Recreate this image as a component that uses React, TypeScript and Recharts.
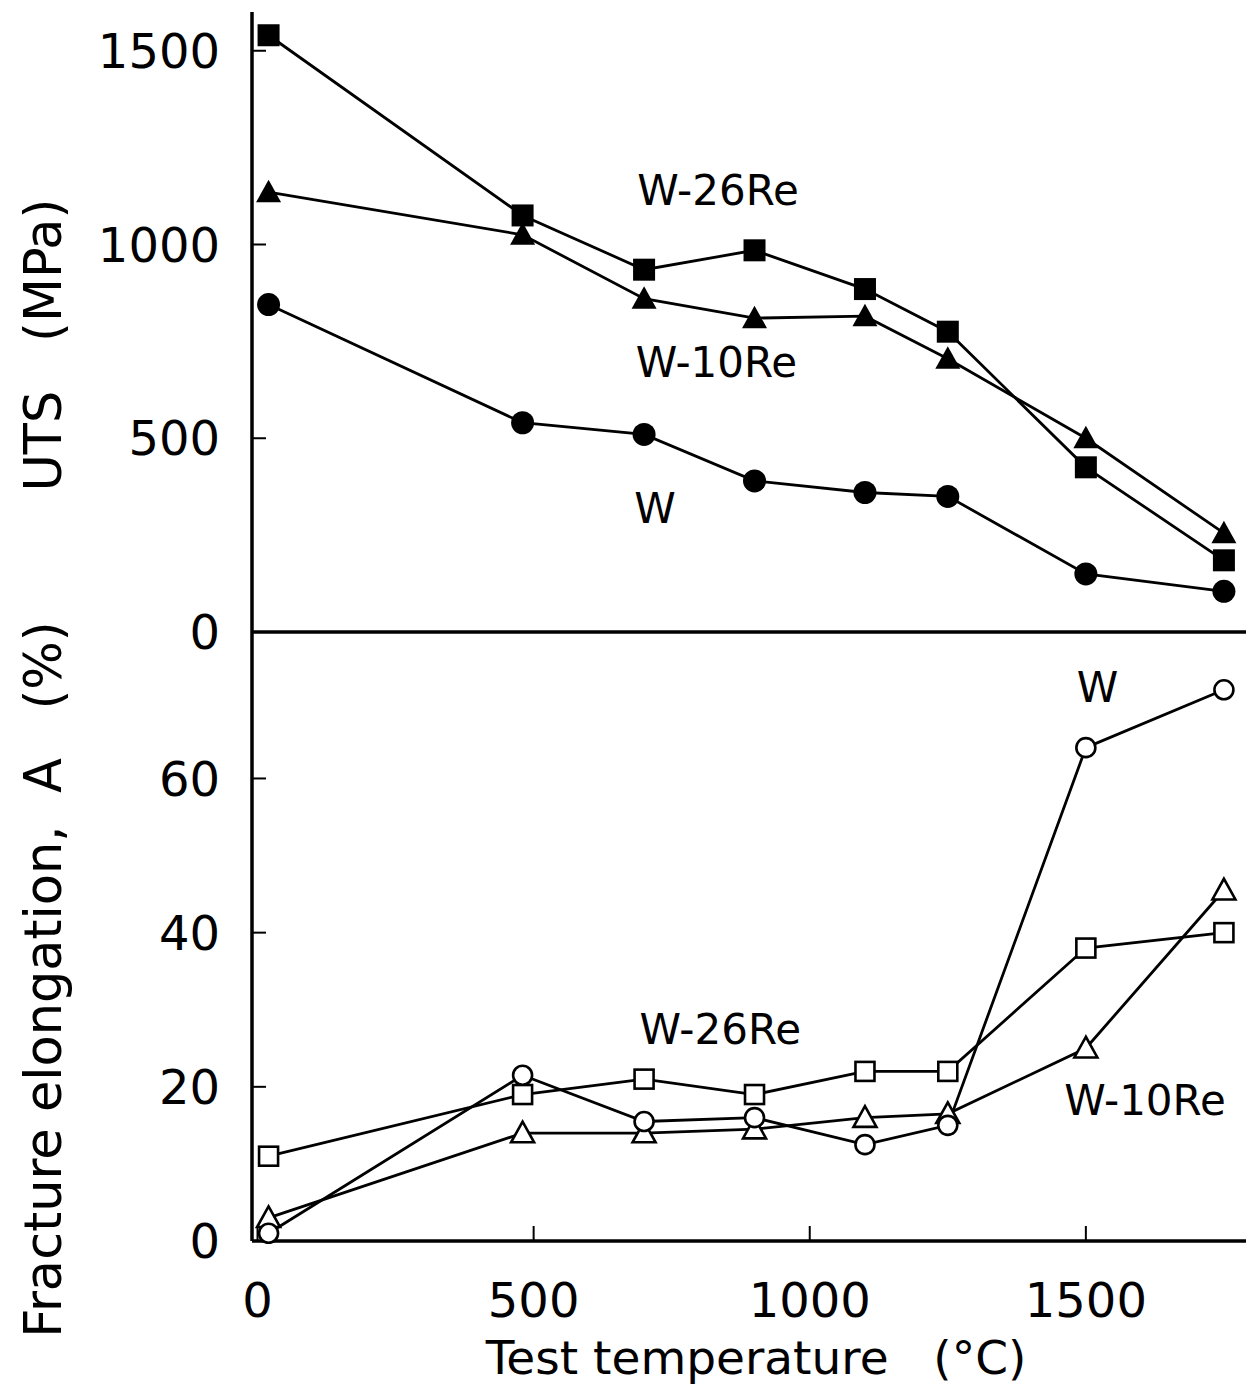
import { LineChart, Line, XAxis, YAxis, ReferenceDot } from 'recharts';

// test temperature (°C)
const temperatures = [20, 480, 700, 900, 1100, 1250, 1500, 1750];

// ultimate tensile strength (MPa)
const utsW26Re = [1540, 1075, 935, 985, 885, 775, 425, 185];
const utsW10Re = [1135, 1025, 860, 810, 815, 705, 500, 255];
const utsW = [845, 540, 510, 390, 360, 350, 150, 105];

// fracture elongation A (%)
const elongW = [1, 21.5, 15.5, 16, 12.5, 15, 64, 71.5];
const elongW26Re = [11, 19, 21, 19, 22, 22, 38, 40];
const elongW10Re = [3, 14, 14, 14.5, 16, 16.5, 25, 45.5];

const tempTicks = [0, 500, 1000, 1500];
const utsTicks = [0, 500, 1000, 1500];
const elongTicks = [0, 20, 40, 60];

// in-plot curve names, anchored in data units
const utsNames = [
  { text: 'W-26Re', t: 834, v: 1141 },
  { text: 'W-10Re', t: 831, v: 697 },
  { text: 'W', t: 720, v: 320 },
];
const elongNames = [
  { text: 'W', t: 1521, v: 71.9 },
  { text: 'W-26Re', t: 838, v: 27.5 },
  { text: 'W-10Re', t: 1607, v: 18.3 },
];

const FONT = '"DejaVu Sans", sans-serif';
const INK = '#000';
const NB = '\u00a0';
const LINE_W = 2.8;

const utsRows = temperatures.map((t, i) => ({ t, w26: utsW26Re[i], w10: utsW10Re[i], w: utsW[i] }));
const elongRows = temperatures.map((t, i) => ({ t, w26: elongW26Re[i], w10: elongW10Re[i], w: elongW[i] }));

const triPoints = (cx: number, cy: number, s: number) =>
  `${cx},${cy - s} ${cx - s},${cy + s * 0.8} ${cx + s},${cy + s * 0.8}`;

const filledSquare = (p: any) => (
  <rect key={`fs-${p.index}`} x={p.cx - 11} y={p.cy - 11} width={22} height={22} fill={INK} />
);
const filledTriangle = (p: any) => (
  <polygon key={`ft-${p.index}`} points={triPoints(p.cx, p.cy, 12.5)} fill={INK} />
);
const filledCircle = (p: any) => <circle key={`fc-${p.index}`} cx={p.cx} cy={p.cy} r={11.5} fill={INK} />;

const openSquare = (p: any) => (
  <rect key={`os-${p.index}`} x={p.cx - 9.5} y={p.cy - 9.5} width={19} height={19}
    fill="#fff" stroke={INK} strokeWidth={2.6} />
);
const openTriangle = (p: any) => (
  <polygon key={`ot-${p.index}`} points={triPoints(p.cx, p.cy, 11.5)} fill="#fff" stroke={INK} strokeWidth={2.6} />
);
const openCircle = (p: any) => (
  <circle key={`oc-${p.index}`} cx={p.cx} cy={p.cy} r={9.5} fill="#fff" stroke={INK} strokeWidth={2.6} />
);

const tickText = { fill: INK, fontSize: 48, fontFamily: FONT };
const frame = { stroke: INK, strokeWidth: 3.5 };
const tickStroke = { stroke: INK, strokeWidth: 2 };

// rotated y-axis title, centred on the axis box plus a vertical shift
const yTitle = (text: string, shift: number) => (props: any) => {
  const vb = props.viewBox || { x: 0, y: 0, height: 0 };
  const x = (vb.x || 0) + 61;
  const y = (vb.y || 0) + vb.height / 2 + shift;
  return (
    <text x={x} y={y} transform={`rotate(-90, ${x}, ${y})`} textAnchor="middle"
      fontSize={51} fontFamily={FONT} fill={INK}>
      {text}
    </text>
  );
};

const xTitle = (props: any) => {
  const vb = props.viewBox || { x: 0, y: 0, width: 0 };
  const x = (vb.x || 0) + vb.width / 2 + 7;
  const y = (vb.y || 0) + 133;
  return (
    <text x={x} y={y} textAnchor="middle" fontSize={47} fontFamily={FONT} fill={INK}>
      {`Test temperature${NB}${NB}${NB}(°C)`}
    </text>
  );
};

const curveName = (n: { text: string; t: number; v: number }) => (
  <ReferenceDot key={n.text + n.t} x={n.t} y={n.v} r={0.5} fill="none" stroke="none"
    label={{ value: n.text, position: 'center', fill: INK, fontSize: 42, fontFamily: FONT }} />
);

export default function App() {
  return (
    <div style={{ position: 'absolute', left: 0, top: 0, width: 1259, height: 1387, background: '#fff' }}>
      {/* upper panel: tensile strength */}
      <div style={{ position: 'absolute', left: 0, top: 0 }}>
        <LineChart width={1259} height={660} data={utsRows} margin={{ top: 12, right: 13, bottom: 0, left: 0 }}>
          <XAxis dataKey="t" type="number" domain={[-10, 1790]} ticks={tempTicks} interval={0}
            height={28} axisLine={frame} tickLine={tickStroke} tickSize={-15} tick={false} />
          <XAxis xAxisId="top" orientation="top" type="number" domain={[-10, 1790]} height={0}
            axisLine={frame} tickLine={false} tick={false} />
          <YAxis type="number" domain={[0, 1600]} ticks={utsTicks} interval={0} width={252}
            axisLine={frame} tickLine={tickStroke} tickSize={-14} tickMargin={46} tick={tickText}
            label={{ content: yTitle(`UTS${NB}${NB}${NB}(MPa)`, 23) }} />
          <YAxis yAxisId="right" orientation="right" type="number" domain={[0, 1]} width={0}
            axisLine={frame} tickLine={false} tick={false} />
          <Line dataKey="w26" type="linear" stroke={INK} strokeWidth={LINE_W} dot={filledSquare}
            activeDot={false} isAnimationActive={false} />
          <Line dataKey="w10" type="linear" stroke={INK} strokeWidth={LINE_W} dot={filledTriangle}
            activeDot={false} isAnimationActive={false} />
          <Line dataKey="w" type="linear" stroke={INK} strokeWidth={LINE_W} dot={filledCircle}
            activeDot={false} isAnimationActive={false} />
          {utsNames.map((n) => curveName(n))}
        </LineChart>
      </div>

      {/* lower panel: fracture elongation */}
      <div style={{ position: 'absolute', left: 0, top: 612 }}>
        <LineChart width={1259} height={775} data={elongRows} margin={{ top: 20, right: 13, bottom: 0, left: 0 }}>
          <XAxis dataKey="t" type="number" domain={[-10, 1790]} ticks={tempTicks} interval={0}
            height={146} axisLine={frame} tickLine={tickStroke} tickSize={-15} tickMargin={57}
            tick={tickText} label={{ content: xTitle }} />
          <YAxis type="number" domain={[0, 79]} ticks={elongTicks} interval={0} width={252}
            axisLine={frame} tickLine={tickStroke} tickSize={-14} tickMargin={46} tick={tickText}
            label={{ content: yTitle(`Fracture elongation,${NB}${NB}A${NB}${NB}${NB}(%)`, 43) }} />
          <YAxis yAxisId="right" orientation="right" type="number" domain={[0, 1]} width={0}
            axisLine={frame} tickLine={false} tick={false} />
          <Line dataKey="w26" type="linear" stroke={INK} strokeWidth={LINE_W} dot={openSquare}
            activeDot={false} isAnimationActive={false} />
          <Line dataKey="w10" type="linear" stroke={INK} strokeWidth={LINE_W} dot={openTriangle}
            activeDot={false} isAnimationActive={false} />
          <Line dataKey="w" type="linear" stroke={INK} strokeWidth={LINE_W} dot={openCircle}
            activeDot={false} isAnimationActive={false} />
          {elongNames.map((n) => curveName(n))}
        </LineChart>
      </div>
    </div>
  );
}
